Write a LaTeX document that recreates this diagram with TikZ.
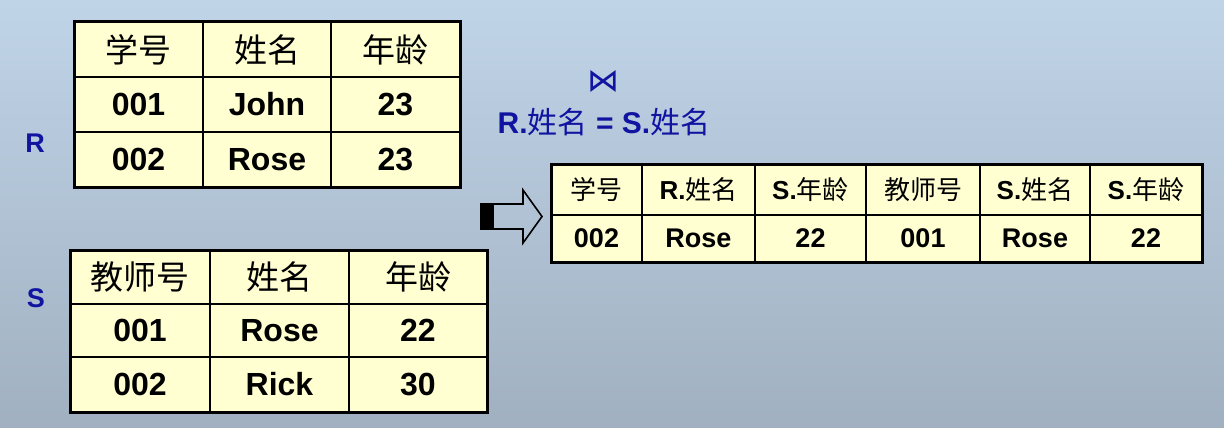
\documentclass[tikz,border=0pt]{standalone}
\usepackage{fontspec}
\setmainfont{Liberation Sans}
\newfontfamily\cjk{Noto Sans CJK SC}
\newfontfamily\symfont{DejaVu Sans}
\newcommand\zhtext[1]{{\mdseries\cjk #1}}
\usetikzlibrary{positioning}
\definecolor{cellyellow}{RGB}{255,255,210}
\definecolor{relblue}{RGB}{16,20,160}
\definecolor{bgtop}{RGB}{192,212,232}
\definecolor{bgbottom}{RGB}{160,176,192}
\tikzset{
  cellfill/.style={fill=cellyellow},
  inner/.style={line width=1.3pt},
  outer/.style={line width=3pt},
  hd/.style={font=\fontsize{33}{33}\selectfont\cjk},
  dt/.style={font=\fontsize{32}{32}\selectfont\bfseries},
  rhd/.style={font=\fontsize{26}{26}\selectfont\bfseries},
  rdt/.style={font=\fontsize{27}{27}\selectfont\bfseries},
  lbl/.style={font=\fontsize{27}{27}\selectfont\bfseries,text=relblue},
}

\begin{document}
\begin{tikzpicture}[x=1pt,y=-1pt]

	\shade[top color=bgtop,bottom color=bgbottom] (0,0) rectangle (1224,428);
	\useasboundingbox (0,0) rectangle (1224,428);

	% relation R
	\fill[cellfill] (74,22) rectangle (460,187);
	\foreach \x in {203,331} \draw[inner] (\x,22) -- (\x,187);
	\foreach \y in {77,132} \draw[inner] (74,\y) -- (460,\y);
	\draw[outer] (74,22) rectangle (460,187);
	\node[hd] at (138.5,49.5) (rh1) {学号};
	\node[hd] at (267,49.5) (rh2) {姓名};
	\node[hd] at (395.5,49.5) (rh3) {年龄};
	\node[dt] at (138.5,104.5) (r11) {001};
	\node[dt] at (267,104.5) (r12) {John};
	\node[dt] at (395.5,104.5) (r13) {23};
	\node[dt] at (138.5,159.5) (r21) {002};
	\node[dt] at (267,159.5) (r22) {Rose};
	\node[dt] at (395.5,159.5) (r23) {23};
	\node[lbl] at (35,143) (rname) {R};

	% relation S
	\fill[cellfill] (70,250) rectangle (487,412);
	\foreach \x in {210,349} \draw[inner] (\x,250) -- (\x,412);
	\foreach \y in {304,357} \draw[inner] (70,\y) -- (487,\y);
	\draw[outer] (70,250) rectangle (487,412);
	\node[hd] at (140,277) (sh1) {教师号};
	\node[hd] at (279.5,277) (sh2) {姓名};
	\node[hd] at (418,277) (sh3) {年龄};
	\node[dt] at (140,330.5) (s11) {001};
	\node[dt] at (279.5,330.5) (s12) {Rose};
	\node[dt] at (418,330.5) (s13) {22};
	\node[dt] at (140,384.5) (s21) {002};
	\node[dt] at (279.5,384.5) (s22) {Rick};
	\node[dt] at (418,384.5) (s23) {30};
	\node[lbl] at (36,298) (sname) {S};

	% join condition
	\node[text=relblue,font=\fontsize{32}{32}\selectfont\symfont] at (603,81) (join) {⋈};
	\node[text=relblue,font=\fontsize{30}{30}\selectfont\bfseries] at (604,122) (cond) {R.\zhtext{姓名} = S.\zhtext{姓名}};

	% arrow
	\fill (481,204) rectangle (494,229);
	\draw[line width=1.6pt,line join=miter] (481,204) -- (523,204) -- (523,190) -- (542,216.5) -- (523,243) -- (523,229) -- (481,229) -- cycle;

	% result
	\fill[cellfill] (551,164) rectangle (1202,262);
	\foreach \x in {642,755,866,980,1090} \draw[inner] (\x,164) -- (\x,262);
	\draw[inner] (551,215) -- (1202,215);
	\draw[outer] (551,164) rectangle (1202,262);
	\node[rhd] at (596.5,189.5) (th1) {\zhtext{学号}};
	\node[rhd] at (698.5,189.5) (th2) {R.\zhtext{姓名}};
	\node[rhd] at (810.5,189.5) (th3) {S.\zhtext{年龄}};
	\node[rhd] at (923,189.5) (th4) {\zhtext{教师号}};
	\node[rhd] at (1035,189.5) (th5) {S.\zhtext{姓名}};
	\node[rhd] at (1146,189.5) (th6) {S.\zhtext{年龄}};
	\node[rdt] at (596.5,238.5) (t11) {002};
	\node[rdt] at (698.5,238.5) (t12) {Rose};
	\node[rdt] at (810.5,238.5) (t13) {22};
	\node[rdt] at (923,238.5) (t14) {001};
	\node[rdt] at (1035,238.5) (t15) {Rose};
	\node[rdt] at (1146,238.5) (t16) {22};

\end{tikzpicture}
\end{document}
